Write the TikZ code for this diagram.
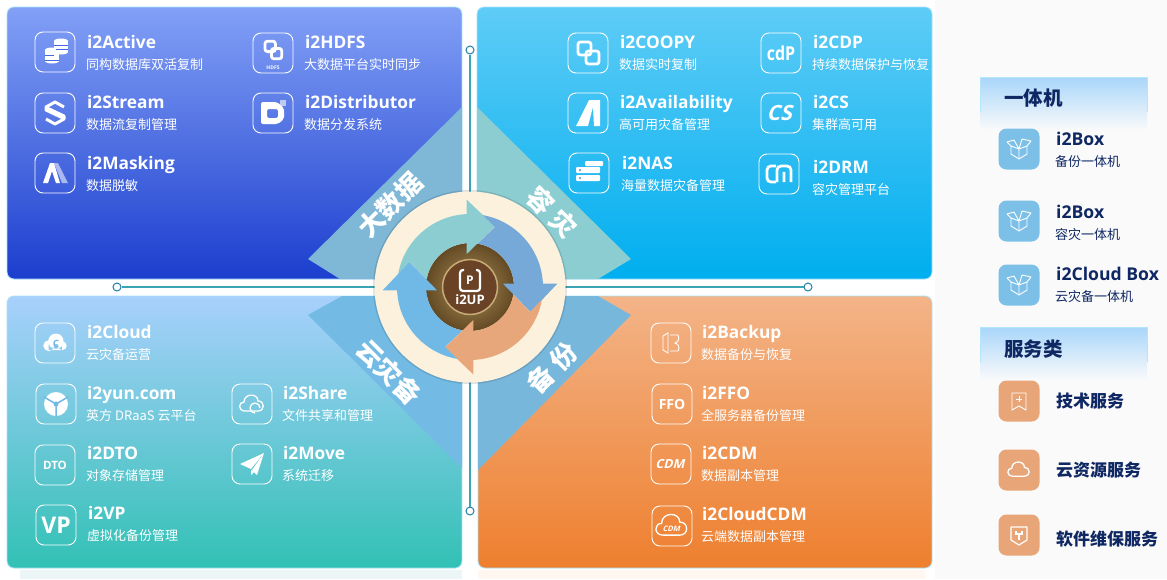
\documentclass[tikz,border=0pt]{standalone}
\usepackage{fontspec}
\setmainfont{Noto Sans CJK SC}
\newfontfamily\titlefont{Open Sans}
\usetikzlibrary{positioning}

\definecolor{navy}{HTML}{0F2763}
\definecolor{bandline}{HTML}{3AA3B4}
\definecolor{dotline}{HTML}{1F7FA8}
\definecolor{cream}{HTML}{FCF1DC}
\definecolor{tealc}{HTML}{8CCDD2}
\definecolor{bluec}{HTML}{76A9D8}
\definecolor{orangec}{HTML}{E8A77A}
\definecolor{skyc}{HTML}{70B9E6}
\definecolor{boxc}{HTML}{7CC0E8}
\definecolor{svcc}{HTML}{E8A577}

% one product: name, icon at, title at, title, text, icon drawing
\newcommand{\entry}[6]{
	\node[iconbox] (#1) at (#2) {};
	\node[ptitle] (#1t) at (#3) {#4};
	\node[psub] (#1s) at ([xshift=-1pt,yshift=-24pt]#1t.west) {#5};
	\begin{scope}[shift={(#1.center)}] #6 \end{scope}
}
\newcommand{\sideitem}[7]{
	\node[sidebox, fill=#3] (#1) at (#2) {};
	\node[stitle] (#1t) at (1056,#4) {#5};
	\node[ssub] (#1s) at ([xshift=-1pt,yshift=-24pt]#1t.west) {#6};
	\begin{scope}[shift={(#1.center)}] #7 \end{scope}
}
\newcommand{\svcitem}[5]{
	\node[sidebox, fill=svcc] (#1) at (#2) {};
	\node[svc] (#1t) at (1056,#3) {#4};
	\begin{scope}[shift={(#1.center)}] #5 \end{scope}
}
% one ring arrow, turned clockwise
\newcommand{\ringarrow}[2]{
	\begin{scope}[shift={(470,287)}, x=1pt, y=1pt, rotate=#1]
		\fill[#2] (170:73) arc[start angle=170, end angle=92.6, radius=73] -- (-3.3,87.3) -- (25,60.5) -- (-3.3,33) -- (94.3:44) arc[start angle=94.3, end angle=170, radius=44] -- (-60,25) -- cycle;
	\end{scope}
}
% icons
\newcommand{\gLink}{
	\draw[gline, line width=2.8pt, rounded corners=2.5] (-10,-11) rectangle (3,2);
	\draw[gline, line width=2.8pt, rounded corners=2.5] (-2,-2) rectangle (11,11);
}
\newcommand{\gCloudline}[1][1]{
	\draw[gline, scale=#1] (-7,7) .. controls (-14,7) and (-14,-2) .. (-8,-2) .. controls (-8,-11) and (6,-11) .. (6,-3) .. controls (13,-3) and (13,7) .. (6,7) -- cycle;
}
\newcommand{\gBox}{
	\draw[gline, line width=.9pt, line join=round] (-8,-3) -- (-8,5) -- (0,10) -- (8,5) -- (8,-3) (-8,-3) -- (0,0) -- (8,-3) (0,0) -- (0,10) (-8,-3) -- (-12,-7) -- (-5,-9) -- (0,0) -- (3,-10) -- (12,-8) -- (8,-3);
}
\newcommand{\gDrum}[2]{
	\fill[white] (#1-7,#2-5) rectangle (#1+7,#2+6);
	\fill[white] (#1,#2-5) ellipse (7 and 2.5);
	\fill[white] (#1,#2+6) ellipse (7 and 2.5);
}

\begin{document}
\begin{tikzpicture}[x=1pt, y=-1pt,
	panel/.style={draw=#1, line width=.8pt, rounded corners=7},
	iconbox/.style={draw=white, line width=.9pt, rounded corners=8, minimum size=40pt, inner sep=0pt},
	sidebox/.style={rounded corners=8, minimum size=41pt, inner sep=0pt},
	ptitle/.style={anchor=west, inner sep=0pt, text=white, font=\titlefont\bfseries\fontsize{17.3}{18}\selectfont, text height=17pt, text depth=4pt},
	psub/.style={anchor=west, inner sep=0pt, text=white, font=\fontsize{13}{14}\selectfont, text height=10pt, text depth=3pt},
	stitle/.style={anchor=west, inner sep=0pt, text=navy, font=\titlefont\bfseries\fontsize{17.6}{18}\selectfont, text height=17pt, text depth=4pt},
	ssub/.style={anchor=west, inner sep=0pt, text=navy, font=\fontsize{13}{14}\selectfont, text height=10pt, text depth=3pt},
	svc/.style={anchor=west, inner sep=0pt, text=navy, font=\bfseries\fontsize{17}{18}\selectfont},
	head/.style={anchor=west, inner sep=0pt, text=navy, font=\bfseries\fontsize{19.5}{20}\selectfont},
	wedge/.style={text=white, font=\bfseries\fontsize{26}{27}\selectfont, inner sep=0pt},
	gtxt/.style={text=white, inner sep=0pt, font=\titlefont\bfseries\fontsize{#1}{#1}\selectfont},
	gline/.style={draw=white, line width=1.3pt},
	dot/.style={circle, draw=dotline, fill=white, line width=1pt, minimum size=8pt, inner sep=0pt}]

	\useasboundingbox (0,0) rectangle (1167,579);
	\fill[white] (0,0) rectangle (1167,579);
	\fill[black!2] (935,0) rectangle (1167,579);
	\fill[teal!7] (20,570) rectangle (462,579);
	\fill[orange!6] (478,570) rectangle (925,579);

	% the four panels
	\draw[panel=cyan!35, top color={rgb,255:red,130;green,160;blue,246}, bottom color={rgb,255:red,28;green,62;blue,206}] (7,7) rectangle (462,279);
	\draw[panel=cyan!35, top color={rgb,255:red,94;green,204;blue,246}, bottom color={rgb,255:red,0;green,174;blue,239}] (477,7) rectangle (932,279);
	\draw[panel=cyan!35, top color={rgb,255:red,168;green,208;blue,252}, middle color={rgb,255:red,126;green,200;blue,238}, bottom color={rgb,255:red,50;green,193;blue,181}] (7,296) rectangle (462,568);
	\draw[panel=cyan!35, top color={rgb,255:red,243;green,180;blue,136}, bottom color={rgb,255:red,238;green,127;blue,46}] (478,296) rectangle (932,568);

	% the wedges behind the ring
	\fill[bluec!60!tealc] (462,107) -- (308,259) -- (340,279) -- (462,279) -- cycle;
	\fill[tealc] (477,107) -- (631,259) -- (598,279) -- (477,279) -- cycle;
	\fill[skyc!90!tealc] (462,468) -- (308,315) -- (342,296) -- (462,296) -- cycle;
	\fill[bluec!50!skyc!80!tealc] (478,470) -- (631,315) -- (598,296) -- (478,296) -- cycle;

	% the cross lines
	\node[dot] (top) at (470,50) {};
	\node[dot] (bot) at (470,511) {};
	\node[dot] (lft) at (117,287) {};
	\node[dot] (rgt) at (808,287) {};
	\draw[bandline, line width=1.3pt] (top) -- (bot);
	\draw[bandline, line width=1.3pt] (lft) -- (rgt);

	% the ring
	\fill[black, opacity=.12] (470,287) circle (97);
	\fill[cream] (470,287) circle (95.5);
	\shade[inner color={rgb,255:red,170;green,142;blue,88}, outer color={rgb,255:red,100;green,74;blue,36}] (470,287) circle (44);
	\ringarrow{0}{tealc}
	\ringarrow{-90}{bluec}
	\ringarrow{-180}{orangec}
	\ringarrow{-270}{skyc}
	\draw[draw={rgb,255:red,200;green,172;blue,120}, fill={rgb,255:red,106;green,66;blue,38}, line width=1.5pt] (470,287) circle (27.5);
	\draw[gline, line width=2.2pt, rounded corners=3] (464,270) -- (460,270) -- (460,291) -- (480,291) -- (480,270) -- (476,270);
	\node[gtxt=12] (pmark) at (470,280) {P};
	\node[gtxt=13] (upname) at (470,300) {i2UP};

	\node[wedge, rotate=45] (bigdata) at (390,205) {大数据};
	\node[wedge, rotate=-45] (dr) at (552,212) {容\hspace{7pt}灾};
	\node[wedge, rotate=-45] (cloud) at (389,372) {云灾备};
	\node[wedge, rotate=45] (backup) at (552,368) {备\hspace{7pt}份};

	% big data
	\entry{active}{55,52}{87,42}{i2Active}{同构数据库双活复制}{
		\gDrum{-3}{3}
		\gDrum{6}{-6}
		\draw[bluec!60!blue, line width=.8pt] (-10,3) -- (-1,3) (-10,8) -- (4,8) (1,-3) -- (13,-3) (-1,-7) -- (13,-7);
	}
	\entry{stream}{55,113}{87,102}{i2Stream}{数据流复制管理}{
		\draw[gline, line width=3pt, line join=round] (9,-6) -- (0,-11) -- (-9,-6) -- (-9,-3) -- (8,5);
		\draw[gline, line width=3pt, line join=round] (-9,6) -- (0,11) -- (9,6) -- (9,3) -- (-8,-5);
	}
	\entry{masking}{55,173}{87,163}{i2Masking}{数据脱敏}{
		\fill[white] (-12,10) -- (-5,-10) -- (-1,-10) -- (5,10) -- (1,10) -- (-3,-2) -- (-7,10) -- cycle;
		\fill[white, opacity=.55] (-1,-10) -- (3,-10) -- (13,10) -- (7,10) -- cycle;
	}
	\entry{hdfs}{273,53}{305,42}{i2HDFS}{大数据平台实时同步}{
		\begin{scope}[yshift=3pt, scale=.8] \gLink \end{scope}
		\node[gtxt=5] (hdfsg) at (0,15) {HDFS};
	}
	\entry{distrib}{273,113}{305,102}{i2Distributor}{数据分发系统}{
		\fill[white, even odd rule, rounded corners=2] (-12,-11) -- (4,-11) -- (11,-5) -- (11,6) -- (5,11) -- (-12,11) -- cycle (-6,-4) rectangle (5,5);
		\fill[white, opacity=.6] (7,-13) rectangle (13,-7);
	}

	% disaster recovery
	\entry{coopy}{588,53}{620,42}{i2COOPY}{数据实时复制}{\gLink}
	\entry{cdp}{781,53}{813,42}{i2CDP}{持续数据保护与恢复}{\node[gtxt=16, yscale=1.2, transform shape] (cdpg) {cdP};}
	\entry{avail}{588,113}{620,102}{i2Availability}{高可用灾备管理}{
		\fill[white] (-12,13) -- (1,-13) -- (12,-13) -- (12,13) -- (6,13) -- (5,-6) -- (0,13) -- cycle;
	}
	\entry{cs}{781,113}{813,102}{i2CS}{集群高可用}{\node[gtxt=21, xslant=.25, transform shape] (csg) {CS};}
	\entry{nas}{589,173}{622,163}{i2NAS}{海量数据灾备管理}{
		\fill[white, rounded corners=1] (-4,-12) rectangle (14,-7);
		\fill[white, rounded corners=1] (-13,-6) rectangle (11,0);
		\fill[white, rounded corners=1] (-13,2) rectangle (11,8);
		\fill[skyc] (-10,-4) rectangle (-8,-2) (-10,4) rectangle (-8,6);
	}
	\entry{drm}{779,174}{813,167}{i2DRM}{容灾管理平台}{
		\draw[gline, line width=2.8pt, rounded corners=4] (-3,-8) -- (-12,-8) -- (-12,8) -- (-3,8);
		\draw[gline, line width=2.8pt, rounded corners=4] (-2,8) -- (-2,-8) -- (12,-8) -- (12,8) (5,-2) -- (5,8);
	}

	% cloud backup
	\entry{icloud}{55,343}{87,332}{i2Cloud}{云灾备运营}{
		\begin{scope}[scale=.9]
			\fill[white] (-7,3) circle (6) (1,-2) circle (8.5) (8,3) circle (5) (-7,1) rectangle (8,8);
		\end{scope}
		\node[gtxt=10, text=skyc] (icloudg) at (1,1) {C};
	}
	\entry{yun}{56,404}{87,393}{i2yun.com}{英方 DRaaS 云平台}{
		\fill[white] (0,0) circle (12);
		\draw[skyc, line width=1.5pt] (0,0) -- (0,13) (0,0) -- (-12,-7) (0,0) -- (12,-7);
		\fill[skyc] (0,0) circle (2.5);
	}
	\entry{dto}{55,465}{87,453}{i2DTO}{对象存储管理}{\node[gtxt=11.5] (dtog) {DTO};}
	\entry{vp}{56,525}{88,513}{i2VP}{虚拟化备份管理}{\node[gtxt=23] (vpg) {VP};}
	\entry{share}{252,404}{283,393}{i2Share}{文件共享和管理}{
		\gCloudline
		\draw[gline] (8,4) arc[start angle=0, end angle=-270, radius=5];
	}
	\entry{move}{252,464}{283,453}{i2Move}{系统迁移}{
		\fill[white] (-12,0) -- (12,-11) -- (-1,5) -- cycle;
		\fill[white] (12,-11) -- (5,11) -- (0,6) -- cycle;
		\fill[white] (-1,6) -- (-1,11) -- (2,8) -- cycle;
	}

	% backup
	\entry{bkp}{671,343}{702,332}{i2Backup}{数据备份与恢复}{
		\draw[gline, line width=.9pt] (-8,-7) -- (-3,-10) -- (-3,10) -- (-8,7) -- cycle;
		\draw[gline, line width=.9pt] (-1,-8) -- (7,-8) .. controls (9,-4) and (7,-1) .. (4,0) .. controls (8,1) and (9,5) .. (7,8) -- (-1,8);
	}
	\entry{ffo}{672,404}{702,393}{i2FFO}{全服务器备份管理}{\node[gtxt=14] (ffog) {FFO};}
	\entry{cdm}{671,464}{702,453}{i2CDM}{数据副本管理}{\node[gtxt=12.5, xslant=.25, transform shape] (cdmg) {CDM};}
	\entry{ccdm}{672,526}{702,514}{i2CloudCDM}{云端数据副本管理}{
		\gCloudline[1.3]
		\node[gtxt=7.5, xslant=.25, transform shape] (ccdmg) at (0,3) {CDM};
	}

	% right column
	\fill[top color={rgb,255:red,168;green,214;blue,250}, bottom color=black!2] (980,77) rectangle (1147,130);
	\draw[cyan!30, line width=.6pt] (980,112) -- (980,77) -- (1147,77) -- (1147,112);
	\node[head] (machines) at (1004,98) {一体机};
	\sideitem{boxa}{1019,149}{boxc}{139}{i2Box}{备份一体机}{\gBox}
	\sideitem{boxb}{1019,221}{boxc}{212}{i2Box}{容灾一体机}{\gBox}
	\sideitem{boxd}{1019,285}{boxc}{274}{i2Cloud Box}{云灾备一体机}{\gBox}

	\fill[top color={rgb,255:red,168;green,214;blue,250}, bottom color=black!2] (980,327) rectangle (1147,380);
	\draw[cyan!30, line width=.6pt] (980,362) -- (980,327) -- (1147,327) -- (1147,362);
	\node[head] (services) at (1004,349) {服务类};
	\svcitem{tech}{1019,401}{401}{技术服务}{
		\draw[gline, line width=.9pt] (-7,-8) -- (7,-8) -- (7,9) -- (0,5) -- (-7,9) -- cycle;
		\draw[gline, line width=.9pt] (-3,-2) -- (3,-2) (0,-5) -- (0,1);
	}
	\svcitem{res}{1019,470}{470}{云资源服务}{\begin{scope}[scale=.9] \gCloudline \end{scope}}
	\svcitem{maint}{1019,535}{539}{软件维保服务}{
		\draw[gline, line width=1.2pt, line join=round] (-8,-8) -- (8,-8) -- (8,5) -- (0,10) -- (-8,5) -- cycle;
		\draw[gline, line width=1.2pt] (-3,-4) -- (-3,-1) -- (3,-1) -- (3,-4) (0,-1) -- (0,5);
	}
\end{tikzpicture}
\end{document}
